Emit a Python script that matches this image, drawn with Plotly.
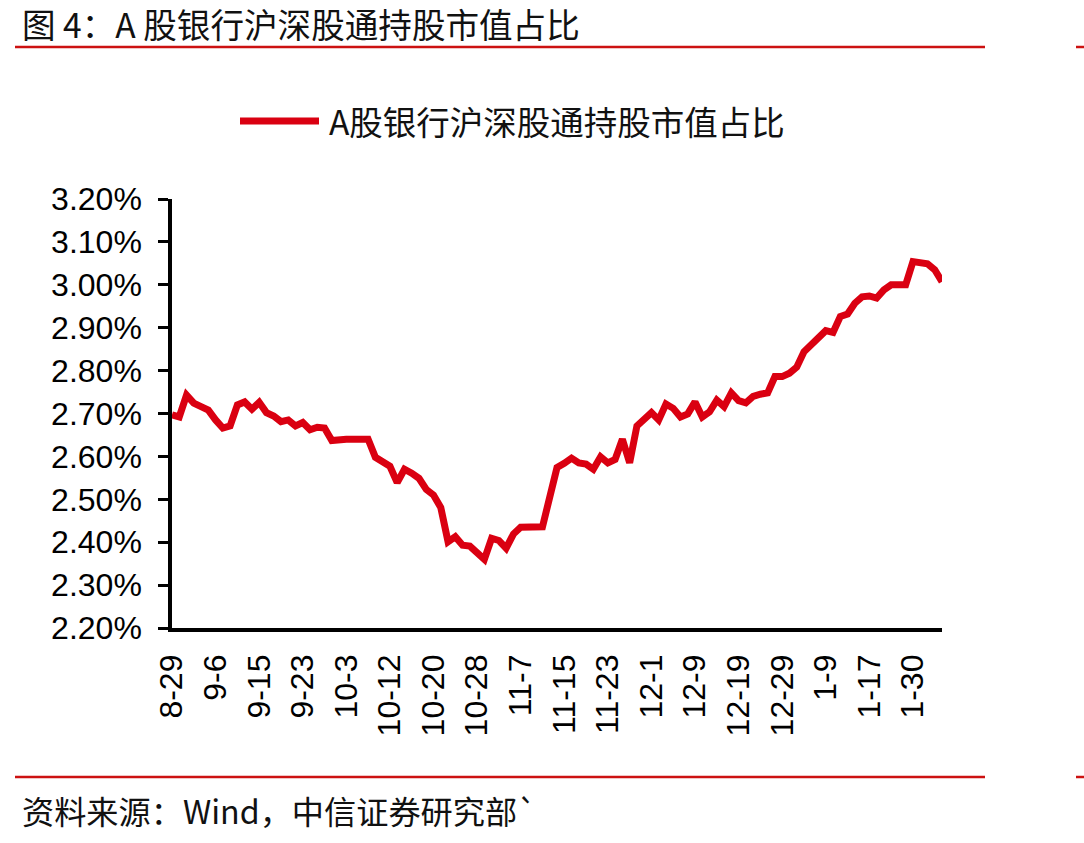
import plotly.graph_objects as go

# ---- data ----
series_name = "A股银行沪深股通持股市值占比"
values = [
    2.697, 2.692, 2.743, 2.724, 2.716, 2.708, 2.685, 2.666, 2.671, 2.720,
    2.727, 2.710, 2.726, 2.702, 2.694, 2.681, 2.685, 2.671, 2.679, 2.662,
    2.668, 2.666, 2.637, 2.640, 2.640, 2.640, 2.640, 2.640, 2.598, 2.585,
    2.577, 2.539, 2.570, 2.561, 2.549, 2.523, 2.510, 2.481, 2.401, 2.413,
    2.393, 2.391, 2.378, 2.360, 2.409, 2.404, 2.386, 2.419, 2.435, 2.435,
    2.432, 2.436, 2.505, 2.574, 2.584, 2.596, 2.585, 2.582, 2.570, 2.599,
    2.585, 2.593, 2.640, 2.585, 2.671, 2.685, 2.702, 2.685, 2.722, 2.712,
    2.692, 2.699, 2.727, 2.692, 2.704, 2.731, 2.716, 2.748, 2.730, 2.725,
    2.740, 2.745, 2.748, 2.786, 2.786, 2.794, 2.808, 2.844, 2.862, 2.875,
    2.893, 2.889, 2.926, 2.932, 2.957, 2.972, 2.974, 2.969, 2.988, 3.000,
    3.000, 3.000, 3.054, 3.052, 3.049, 3.035, 3.007,
]
tick_labels = ["8-29", "9-6", "9-15", "9-23", "10-3", "10-12", "10-20", "10-28",
               "11-7", "11-15", "11-23", "12-1", "12-9", "12-19", "12-29",
               "1-9", "1-17", "1-30"]
tick_step = 6
y_min, y_max, y_step = 2.20, 3.20, 0.10

title_text = "图 4：A 股银行沪深股通持股市值占比"
source_text = "资料来源：Wind，中信证券研究部`"

# ---- styling ----
W, H = 1084, 843
RED = "#DA0011"
DECO_RED = "#CC1111"
CJK = "Noto Sans CJK SC"
LATIN = "Liberation Sans, Arial, sans-serif"


def px(x):
    return x / W


def py(y):
    return 1 - y / H


x_idx = list(range(len(values)))
tick_vals = [i * tick_step for i in range(len(tick_labels))]

fig = go.Figure()
fig.add_trace(go.Scatter(
    x=x_idx, y=values, mode="lines", name=series_name, showlegend=False,
    line=dict(color=RED, width=7, shape="linear"),
))

shapes = []
# header / footer rules
for yy in (47, 777):
    shapes.append(dict(type="line", xref="paper", yref="paper",
                       x0=px(15), x1=px(985), y0=py(yy), y1=py(yy),
                       line=dict(color=DECO_RED, width=2.5)))
    shapes.append(dict(type="line", xref="paper", yref="paper",
                       x0=px(1076), x1=px(1084), y0=py(yy), y1=py(yy),
                       line=dict(color=DECO_RED, width=2.5)))
# legend sample line
shapes.append(dict(type="line", xref="paper", yref="paper",
                   x0=px(240), x1=px(319), y0=py(121), y1=py(121),
                   line=dict(color=RED, width=7)))

annotations = [
    dict(text=title_text, xref="paper", yref="paper", x=px(20), y=py(23),
         xanchor="left", yanchor="middle", showarrow=False,
         font=dict(family=CJK, size=33.6, color="#111111")),
    dict(text=source_text, xref="paper", yref="paper", x=px(20), y=py(810),
         xanchor="left", yanchor="middle", showarrow=False,
         font=dict(family=CJK, size=32.2, color="#111111")),
    dict(text=series_name, xref="paper", yref="paper", x=px(327), y=py(121),
         xanchor="left", yanchor="middle", showarrow=False,
         font=dict(family=CJK, size=33.5, color="#111111")),
]

fig.update_layout(
    width=W, height=H,
    margin=dict(l=0, r=0, t=0, b=0),
    paper_bgcolor="white", plot_bgcolor="white",
    showlegend=False,
    shapes=shapes,
    annotations=annotations,
    xaxis=dict(
        domain=[px(172), px(942)],
        range=[0, len(values) - 1],
        tickmode="array", tickvals=tick_vals, ticktext=tick_labels,
        tickangle=-90,
        showline=True, linecolor="black", linewidth=3.5,
        ticks="", showgrid=False, zeroline=False,
        tickfont=dict(family=LATIN, size=32, color="black"),
        ticklabelstandoff=10,
        automargin=False,
    ),
    yaxis=dict(
        domain=[py(628), py(199)],
        range=[y_min, y_max],
        tick0=y_min, dtick=y_step,
        tickformat=".2f", ticksuffix="%",
        showline=True, linecolor="black", linewidth=3.5,
        ticks="outside", ticklen=10, tickwidth=3, tickcolor="black",
        showgrid=False, zeroline=False,
        tickfont=dict(family=LATIN, size=32, color="black"),
        ticklabelstandoff=10,
        automargin=False,
    ),
)

fig.write_html("out.html")
